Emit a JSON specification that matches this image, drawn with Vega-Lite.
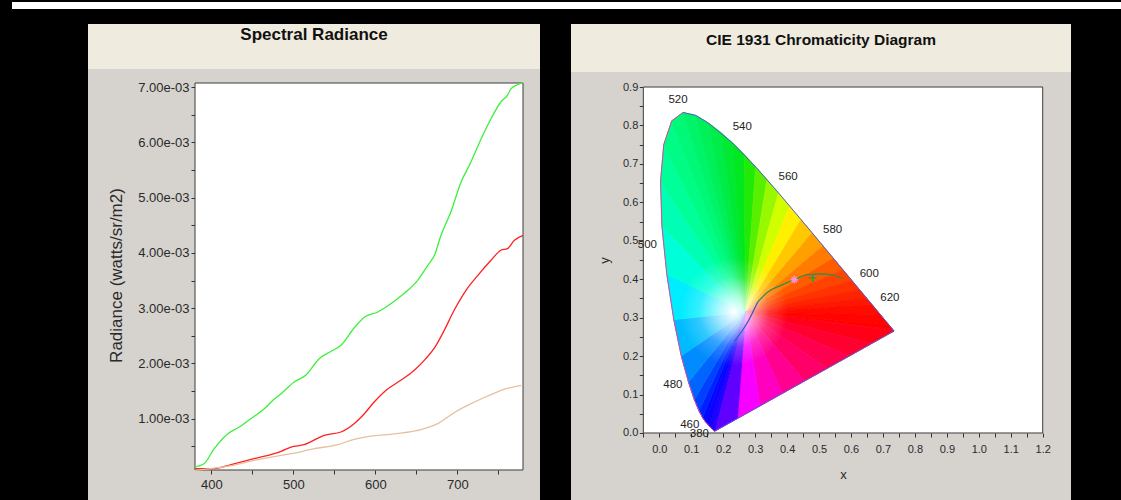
{
  "$schema": "https://vega.github.io/schema/vega-lite/v6.json",
  "background": "#000000",
  "padding": {"left": 10, "top": 0, "right": 0, "bottom": 0},
  "config": {
    "view": {"stroke": null},
    "axis": {"grid": false, "domain": false, "labelFont": "Liberation Sans", "titleFont": "Liberation Sans", "labelColor": "#2a2a2a", "titleColor": "#2a2a2a", "tickColor": "#333333", "titleFontWeight": "normal", "labelOverlap": false, "labelFlush": false},
    "text": {"font": "Liberation Sans"}
  },
  "datasets": {
    "rad": [
      {"s":"green","wl":380,"v":0.000127},{"s":"green","wl":391,"v":0.000186},{"s":"green","wl":403.5,"v":0.000458},{"s":"green","wl":420,"v":0.000729},{"s":"green","wl":434,"v":0.00085},{"s":"green","wl":448,"v":0.001},{"s":"green","wl":464.5,"v":0.001181},{"s":"green","wl":475,"v":0.001333},{"s":"green","wl":485,"v":0.001453},{"s":"green","wl":501,"v":0.001664},{"s":"green","wl":515,"v":0.001785},{"s":"green","wl":531.5,"v":0.002086},{"s":"green","wl":546,"v":0.00222},{"s":"green","wl":558,"v":0.002328},{"s":"green","wl":574,"v":0.002641},{"s":"green","wl":586.5,"v":0.002835},{"s":"green","wl":603,"v":0.002931},{"s":"green","wl":613,"v":0.003021},{"s":"green","wl":627,"v":0.003171},{"s":"green","wl":639.5,"v":0.003323},{"s":"green","wl":651.5,"v":0.003504},{"s":"green","wl":664,"v":0.003775},{"s":"green","wl":672,"v":0.003956},{"s":"green","wl":680,"v":0.004318},{"s":"green","wl":692,"v":0.00474},{"s":"green","wl":704.5,"v":0.005282},{"s":"green","wl":716.5,"v":0.005644},{"s":"green","wl":729,"v":0.006066},{"s":"green","wl":741,"v":0.006427},{"s":"green","wl":753,"v":0.006729},{"s":"green","wl":761,"v":0.006851},{"s":"green","wl":765.5,"v":0.00697},{"s":"green","wl":773.5,"v":0.007042},{"s":"green","wl":780,"v":0.007078},
      {"s":"red","wl":380,"v":0.000096},{"s":"red","wl":403.5,"v":0.000096},{"s":"red","wl":424,"v":0.00017},{"s":"red","wl":452,"v":0.000277},{"s":"red","wl":485,"v":0.000411},{"s":"red","wl":497,"v":0.000488},{"s":"red","wl":513,"v":0.00053},{"s":"red","wl":537.5,"v":0.0007},{"s":"red","wl":558,"v":0.00076},{"s":"red","wl":574,"v":0.00091},{"s":"red","wl":586.5,"v":0.001091},{"s":"red","wl":598.5,"v":0.001302},{"s":"red","wl":613,"v":0.001514},{"s":"red","wl":631,"v":0.001695},{"s":"red","wl":647.5,"v":0.001876},{"s":"red","wl":661.5,"v":0.002086},{"s":"red","wl":674,"v":0.002328},{"s":"red","wl":684,"v":0.0026},{"s":"red","wl":696,"v":0.002961},{"s":"red","wl":710.5,"v":0.003323},{"s":"red","wl":725,"v":0.003594},{"s":"red","wl":741,"v":0.003866},{"s":"red","wl":753,"v":0.004047},{"s":"red","wl":761,"v":0.004076},{"s":"red","wl":769.5,"v":0.004228},{"s":"red","wl":780,"v":0.004318},
      {"s":"tan","wl":380,"v":0.000067},{"s":"tan","wl":424,"v":0.00015},{"s":"tan","wl":452,"v":0.000248},{"s":"tan","wl":485,"v":0.000338},{"s":"tan","wl":497,"v":0.000367},{"s":"tan","wl":525.5,"v":0.000458},{"s":"tan","wl":554,"v":0.00053},{"s":"tan","wl":574,"v":0.000628},{"s":"tan","wl":594.5,"v":0.000687},{"s":"tan","wl":615,"v":0.000711},{"s":"tan","wl":635,"v":0.000747},{"s":"tan","wl":655.5,"v":0.000801},{"s":"tan","wl":676,"v":0.00091},{"s":"tan","wl":696,"v":0.001109},{"s":"tan","wl":716.5,"v":0.001272},{"s":"tan","wl":737,"v":0.001411},{"s":"tan","wl":757,"v":0.001532},{"s":"tan","wl":778,"v":0.001605}
    ],
    "locus": [
      {"wl":380,"x":0.1741,"y":0.005},{"wl":420,"x":0.1714,"y":0.0051},{"wl":440,"x":0.1644,"y":0.0109},{"wl":450,"x":0.1566,"y":0.0177},{"wl":460,"x":0.144,"y":0.0297},{"wl":465,"x":0.1355,"y":0.0399},{"wl":470,"x":0.1241,"y":0.0578},{"wl":475,"x":0.1096,"y":0.0868},{"wl":480,"x":0.0913,"y":0.1327},{"wl":485,"x":0.0687,"y":0.2007},{"wl":490,"x":0.0454,"y":0.295},{"wl":495,"x":0.0235,"y":0.4127},{"wl":500,"x":0.0082,"y":0.5384},{"wl":505,"x":0.0039,"y":0.6548},{"wl":510,"x":0.0139,"y":0.7502},{"wl":515,"x":0.0389,"y":0.812},{"wl":520,"x":0.0743,"y":0.8338},{"wl":525,"x":0.1142,"y":0.8262},{"wl":530,"x":0.1547,"y":0.8059},{"wl":540,"x":0.2296,"y":0.7543},{"wl":550,"x":0.3016,"y":0.6923},{"wl":560,"x":0.3731,"y":0.6245},{"wl":570,"x":0.4441,"y":0.5547},{"wl":580,"x":0.5125,"y":0.4866},{"wl":590,"x":0.5752,"y":0.4242},{"wl":600,"x":0.627,"y":0.3725},{"wl":610,"x":0.6658,"y":0.334},{"wl":620,"x":0.6915,"y":0.3083},{"wl":640,"x":0.719,"y":0.2809},{"wl":660,"x":0.73,"y":0.27},{"wl":700,"x":0.7347,"y":0.2653}
    ],
    "outline": [
      {"side":"L","o":0,"x":0.1741,"y":0.005},{"side":"L","o":1,"x":0.1714,"y":0.0051},{"side":"L","o":2,"x":0.1644,"y":0.0109},{"side":"L","o":3,"x":0.1566,"y":0.0177},{"side":"L","o":4,"x":0.144,"y":0.0297},{"side":"L","o":5,"x":0.1355,"y":0.0399},{"side":"L","o":6,"x":0.1241,"y":0.0578},{"side":"L","o":7,"x":0.1096,"y":0.0868},{"side":"L","o":8,"x":0.0913,"y":0.1327},{"side":"L","o":9,"x":0.0687,"y":0.2007},{"side":"L","o":10,"x":0.0454,"y":0.295},{"side":"L","o":11,"x":0.0235,"y":0.4127},{"side":"L","o":12,"x":0.0082,"y":0.5384},{"side":"L","o":13,"x":0.0039,"y":0.6548},{"side":"L","o":14,"x":0.0139,"y":0.7502},{"side":"L","o":15,"x":0.0389,"y":0.812},{"side":"L","o":16,"x":0.0743,"y":0.8338},
      {"side":"R","o":0,"x":0.0743,"y":0.8338},{"side":"R","o":1,"x":0.1142,"y":0.8262},{"side":"R","o":2,"x":0.1547,"y":0.8059},{"side":"R","o":3,"x":0.2296,"y":0.7543},{"side":"R","o":4,"x":0.3016,"y":0.6923},{"side":"R","o":5,"x":0.3731,"y":0.6245},{"side":"R","o":6,"x":0.4441,"y":0.5547},{"side":"R","o":7,"x":0.5125,"y":0.4866},{"side":"R","o":8,"x":0.5752,"y":0.4242},{"side":"R","o":9,"x":0.627,"y":0.3725},{"side":"R","o":10,"x":0.6658,"y":0.334},{"side":"R","o":11,"x":0.6915,"y":0.3083},{"side":"R","o":12,"x":0.719,"y":0.2809},{"side":"R","o":13,"x":0.73,"y":0.27},{"side":"R","o":14,"x":0.7347,"y":0.2653},{"side":"R","o":15,"x":0.1741,"y":0.005}
    ],
    "fan": [
      {"w":0,"k":0,"x":0.27,"y":0.315},{"w":0,"k":1,"x":0.1741,"y":0.005},{"w":0,"k":2,"x":0.1714,"y":0.0051},
      {"w":1,"k":0,"x":0.27,"y":0.315},{"w":1,"k":1,"x":0.1714,"y":0.0051},{"w":1,"k":2,"x":0.1644,"y":0.0109},
      {"w":2,"k":0,"x":0.27,"y":0.315},{"w":2,"k":1,"x":0.1644,"y":0.0109},{"w":2,"k":2,"x":0.1566,"y":0.0177},
      {"w":3,"k":0,"x":0.27,"y":0.315},{"w":3,"k":1,"x":0.1566,"y":0.0177},{"w":3,"k":2,"x":0.144,"y":0.0297},
      {"w":4,"k":0,"x":0.27,"y":0.315},{"w":4,"k":1,"x":0.144,"y":0.0297},{"w":4,"k":2,"x":0.1355,"y":0.0399},
      {"w":5,"k":0,"x":0.27,"y":0.315},{"w":5,"k":1,"x":0.1355,"y":0.0399},{"w":5,"k":2,"x":0.1241,"y":0.0578},
      {"w":6,"k":0,"x":0.27,"y":0.315},{"w":6,"k":1,"x":0.1241,"y":0.0578},{"w":6,"k":2,"x":0.1096,"y":0.0868},
      {"w":7,"k":0,"x":0.27,"y":0.315},{"w":7,"k":1,"x":0.1096,"y":0.0868},{"w":7,"k":2,"x":0.0913,"y":0.1327},
      {"w":8,"k":0,"x":0.27,"y":0.315},{"w":8,"k":1,"x":0.0913,"y":0.1327},{"w":8,"k":2,"x":0.0687,"y":0.2007},
      {"w":9,"k":0,"x":0.27,"y":0.315},{"w":9,"k":1,"x":0.0687,"y":0.2007},{"w":9,"k":2,"x":0.0454,"y":0.295},
      {"w":10,"k":0,"x":0.27,"y":0.315},{"w":10,"k":1,"x":0.0454,"y":0.295},{"w":10,"k":2,"x":0.0235,"y":0.4127},
      {"w":11,"k":0,"x":0.27,"y":0.315},{"w":11,"k":1,"x":0.0235,"y":0.4127},{"w":11,"k":2,"x":0.0082,"y":0.5384},
      {"w":12,"k":0,"x":0.27,"y":0.315},{"w":12,"k":1,"x":0.0082,"y":0.5384},{"w":12,"k":2,"x":0.0039,"y":0.6548},
      {"w":13,"k":0,"x":0.27,"y":0.315},{"w":13,"k":1,"x":0.0039,"y":0.6548},{"w":13,"k":2,"x":0.0139,"y":0.7502},
      {"w":14,"k":0,"x":0.27,"y":0.315},{"w":14,"k":1,"x":0.0139,"y":0.7502},{"w":14,"k":2,"x":0.0389,"y":0.812},
      {"w":15,"k":0,"x":0.27,"y":0.315},{"w":15,"k":1,"x":0.0389,"y":0.812},{"w":15,"k":2,"x":0.0743,"y":0.8338},
      {"w":16,"k":0,"x":0.27,"y":0.315},{"w":16,"k":1,"x":0.0743,"y":0.8338},{"w":16,"k":2,"x":0.1142,"y":0.8262},
      {"w":17,"k":0,"x":0.27,"y":0.315},{"w":17,"k":1,"x":0.1142,"y":0.8262},{"w":17,"k":2,"x":0.1547,"y":0.8059},
      {"w":18,"k":0,"x":0.27,"y":0.315},{"w":18,"k":1,"x":0.1547,"y":0.8059},{"w":18,"k":2,"x":0.1929,"y":0.7816},
      {"w":19,"k":0,"x":0.27,"y":0.315},{"w":19,"k":1,"x":0.1929,"y":0.7816},{"w":19,"k":2,"x":0.2296,"y":0.7543},
      {"w":20,"k":0,"x":0.27,"y":0.315},{"w":20,"k":1,"x":0.2296,"y":0.7543},{"w":20,"k":2,"x":0.2658,"y":0.7243},
      {"w":21,"k":0,"x":0.27,"y":0.315},{"w":21,"k":1,"x":0.2658,"y":0.7243},{"w":21,"k":2,"x":0.3016,"y":0.6923},
      {"w":22,"k":0,"x":0.27,"y":0.315},{"w":22,"k":1,"x":0.3016,"y":0.6923},{"w":22,"k":2,"x":0.3373,"y":0.6589},
      {"w":23,"k":0,"x":0.27,"y":0.315},{"w":23,"k":1,"x":0.3373,"y":0.6589},{"w":23,"k":2,"x":0.3731,"y":0.6245},
      {"w":24,"k":0,"x":0.27,"y":0.315},{"w":24,"k":1,"x":0.3731,"y":0.6245},{"w":24,"k":2,"x":0.4087,"y":0.5896},
      {"w":25,"k":0,"x":0.27,"y":0.315},{"w":25,"k":1,"x":0.4087,"y":0.5896},{"w":25,"k":2,"x":0.4441,"y":0.5547},
      {"w":26,"k":0,"x":0.27,"y":0.315},{"w":26,"k":1,"x":0.4441,"y":0.5547},{"w":26,"k":2,"x":0.4788,"y":0.5202},
      {"w":27,"k":0,"x":0.27,"y":0.315},{"w":27,"k":1,"x":0.4788,"y":0.5202},{"w":27,"k":2,"x":0.5125,"y":0.4866},
      {"w":28,"k":0,"x":0.27,"y":0.315},{"w":28,"k":1,"x":0.5125,"y":0.4866},{"w":28,"k":2,"x":0.5448,"y":0.4544},
      {"w":29,"k":0,"x":0.27,"y":0.315},{"w":29,"k":1,"x":0.5448,"y":0.4544},{"w":29,"k":2,"x":0.5752,"y":0.4242},
      {"w":30,"k":0,"x":0.27,"y":0.315},{"w":30,"k":1,"x":0.5752,"y":0.4242},{"w":30,"k":2,"x":0.6029,"y":0.3965},
      {"w":31,"k":0,"x":0.27,"y":0.315},{"w":31,"k":1,"x":0.6029,"y":0.3965},{"w":31,"k":2,"x":0.627,"y":0.3725},
      {"w":32,"k":0,"x":0.27,"y":0.315},{"w":32,"k":1,"x":0.627,"y":0.3725},{"w":32,"k":2,"x":0.6482,"y":0.3514},
      {"w":33,"k":0,"x":0.27,"y":0.315},{"w":33,"k":1,"x":0.6482,"y":0.3514},{"w":33,"k":2,"x":0.6658,"y":0.334},
      {"w":34,"k":0,"x":0.27,"y":0.315},{"w":34,"k":1,"x":0.6658,"y":0.334},{"w":34,"k":2,"x":0.6915,"y":0.3083},
      {"w":35,"k":0,"x":0.27,"y":0.315},{"w":35,"k":1,"x":0.6915,"y":0.3083},{"w":35,"k":2,"x":0.719,"y":0.2809},
      {"w":36,"k":0,"x":0.27,"y":0.315},{"w":36,"k":1,"x":0.719,"y":0.2809},{"w":36,"k":2,"x":0.73,"y":0.27},
      {"w":37,"k":0,"x":0.27,"y":0.315},{"w":37,"k":1,"x":0.73,"y":0.27},{"w":37,"k":2,"x":0.7347,"y":0.2653},
      {"w":38,"k":0,"x":0.27,"y":0.315},{"w":38,"k":1,"x":0.7347,"y":0.2653},{"w":38,"k":2,"x":0.6646,"y":0.2328},
      {"w":39,"k":0,"x":0.27,"y":0.315},{"w":39,"k":1,"x":0.6646,"y":0.2328},{"w":39,"k":2,"x":0.5946,"y":0.2002},
      {"w":40,"k":0,"x":0.27,"y":0.315},{"w":40,"k":1,"x":0.5946,"y":0.2002},{"w":40,"k":2,"x":0.5245,"y":0.1677},
      {"w":41,"k":0,"x":0.27,"y":0.315},{"w":41,"k":1,"x":0.5245,"y":0.1677},{"w":41,"k":2,"x":0.4544,"y":0.1352},
      {"w":42,"k":0,"x":0.27,"y":0.315},{"w":42,"k":1,"x":0.4544,"y":0.1352},{"w":42,"k":2,"x":0.3843,"y":0.1026},
      {"w":43,"k":0,"x":0.27,"y":0.315},{"w":43,"k":1,"x":0.3843,"y":0.1026},{"w":43,"k":2,"x":0.3143,"y":0.0701},
      {"w":44,"k":0,"x":0.27,"y":0.315},{"w":44,"k":1,"x":0.3143,"y":0.0701},{"w":44,"k":2,"x":0.2442,"y":0.0376},
      {"w":45,"k":0,"x":0.27,"y":0.315},{"w":45,"k":1,"x":0.2442,"y":0.0376},{"w":45,"k":2,"x":0.1741,"y":0.005}
    ],
    "planck": [
      {"seg":"b","o":0,"x":0.2354,"y":0.2386},{"seg":"b","o":1,"x":0.2767,"y":0.2888},{"seg":"b","o":2,"x":0.308,"y":0.3408},
      {"seg":"g","o":0,"x":0.308,"y":0.3408},{"seg":"g","o":1,"x":0.3393,"y":0.3668},{"seg":"g","o":2,"x":0.381,"y":0.3842},{"seg":"g","o":3,"x":0.4226,"y":0.3989},{"seg":"g","o":4,"x":0.4645,"y":0.4118},{"seg":"g","o":5,"x":0.5061,"y":0.4136},{"seg":"g","o":6,"x":0.5478,"y":0.4102},{"seg":"g","o":7,"x":0.574,"y":0.4014}
    ],
    "markers": [
      {"m":"star","x":0.4226,"y":0.3989},{"m":"plus","x":0.48,"y":0.403}
    ],
    "labels": [
      {"t":"540","g":"R","x":0.2296,"y":0.7543},{"t":"560","g":"R","x":0.3731,"y":0.6245},{"t":"580","g":"R","x":0.5125,"y":0.4866},{"t":"600","g":"R","x":0.627,"y":0.3725},{"t":"620","g":"R","x":0.6915,"y":0.3083},
      {"t":"520","g":"T","x":0.0743,"y":0.8338},
      {"t":"480","g":"L","x":0.0913,"y":0.1327},{"t":"460","g":"L","x":0.144,"y":0.0297},{"t":"380","g":"L","x":0.1741,"y":0.005},
      {"t":"500","g":"M","x":0.0082,"y":0.5384}
    ]
  },
  "spacing": 14,
  "vconcat": [
    {"width": 1111, "height": 8, "view": {"fill": "#ffffff", "stroke": "#000000"}, "data": {"values": []}, "mark": "point"},
    {
      "spacing": 31,
      "hconcat": [
        {"width": 46, "height": 10, "view": {"fill": "#000000"}, "data": {"values": []}, "mark": "point"},
        {
          "spacing": 0,
          "vconcat": [
            {
              "width": 452, "height": 45, "view": {"fill": "#efebde"},
              "data": {"values": [{"t": "Spectral Radiance"}]},
              "mark": {"type": "text", "font": "Liberation Sans", "fontSize": 17, "fontWeight": "bold", "color": "#111111", "baseline": "middle", "dy": -12},
              "encoding": {"text": {"field": "t"}}
            },
            {
              "width": 452, "height": 433, "view": {"fill": "#d6d3ce"},
              "layer": [
                {
                  "data": {"values": [{}]},
                  "mark": {"type": "rect", "fill": "#ffffff", "stroke": "#3c3c3c", "strokeWidth": 1},
                  "encoding": {
                    "x": {"datum": 380, "type": "quantitative", "scale": {"domain": [249.51, 800.73], "nice": false, "zero": false}},
                    "x2": {"datum": 780},
                    "y": {"datum": 0.0000724, "type": "quantitative", "scale": {"domain": [-0.0005065, 0.0073263], "nice": false, "zero": false}},
                    "y2": {"datum": 0.007073}
                  }
                },
                {
                  "data": {"name": "rad"},
                  "mark": {"type": "line", "strokeWidth": 1.3, "interpolate": "monotone"},
                  "encoding": {
                    "x": {"field": "wl", "type": "quantitative", "scale": {"domain": [249.51, 800.73], "nice": false, "zero": false},
                      "axis": {"orient": "bottom", "offset": -32, "values": [400, 450, 500, 550, 600, 650, 700, 750], "tickCount": 100, "labelExpr": "datum.value % 100 == 0 ? datum.label : ''", "labelOverlap": false, "title": null, "tickSize": 4, "labelPadding": 4, "labelFontSize": 13}},
                    "y": {"field": "v", "type": "quantitative", "scale": {"domain": [-0.0005065, 0.0073263], "nice": false, "zero": false},
                      "axis": {"orient": "left", "offset": -107, "values": [0.0005, 0.001, 0.0015, 0.002, 0.0025, 0.003, 0.0035, 0.004, 0.0045, 0.005, 0.0055, 0.006, 0.0065, 0.007], "tickCount": 100, "labelExpr": "abs(datum.value*1000 - round(datum.value*1000)) < 0.01 ? replace(format(datum.value, '.2e'), 'e-', 'e-0') : ''", "labelOverlap": false, "title": "Radiance (watts/sr/m2)", "titleFontSize": 17, "titleY": 206, "titlePadding": 12, "tickSize": 4, "labelPadding": 2, "labelFontSize": 13}},
                    "color": {"field": "s", "type": "nominal", "scale": {"domain": ["green", "red", "tan"], "range": ["#3cf03c", "#ff2020", "#e6c09c"]}, "legend": null}
                  }
                }
              ]
            }
          ]
        },
        {
          "spacing": 0,
          "vconcat": [
            {
              "width": 500, "height": 48, "view": {"fill": "#efebde"},
              "data": {"values": [{"t": "CIE 1931 Chromaticity Diagram"}]},
              "mark": {"type": "text", "font": "Liberation Sans", "fontSize": 15.5, "fontWeight": "bold", "color": "#111111", "baseline": "middle", "dy": -8},
              "encoding": {"text": {"field": "t"}}
            },
            {
              "width": 500, "height": 430, "view": {"fill": "#d6d3ce"},
              "resolve": {"scale": {"color": "independent"}},
              "layer": [
                {
                  "data": {"values": [{}]},
                  "mark": {"type": "rect", "fill": "#ffffff", "stroke": "#3c3c3c", "strokeWidth": 1},
                  "encoding": {
                    "x": {"datum": -0.05, "type": "quantitative", "scale": {"domain": [-0.2764, 1.2886], "nice": false, "zero": false}},
                    "x2": {"datum": 1.2},
                    "y": {"datum": 0, "type": "quantitative", "scale": {"domain": [-0.1795, 0.9391], "nice": false, "zero": false}},
                    "y2": {"datum": 0.9}
                  }
                },
                {
                  "data": {"name": "fan"},
                  "mark": {"type": "line", "strokeWidth": 1},
                  "encoding": {
                    "x": {"field": "x", "type": "quantitative", "scale": {"domain": [-0.2764, 1.2886], "nice": false, "zero": false},
                      "axis": {"orient": "bottom", "offset": -69, "values": [-0.05, 0, 0.05, 0.1, 0.15, 0.2, 0.25, 0.3, 0.35, 0.4, 0.45, 0.5, 0.55, 0.6, 0.65, 0.7, 0.75, 0.8, 0.85, 0.9, 0.95, 1, 1.05, 1.1, 1.15, 1.2], "tickCount": 100, "labelExpr": "abs(datum.value*10 - round(datum.value*10)) < 0.01 ? format(datum.value, '.1f') : ''", "labelOverlap": false, "title": "x", "titleFontSize": 13, "titleX": 272, "titlePadding": 14, "tickSize": 4, "labelPadding": 6, "labelFontSize": 11}},
                    "y": {"field": "y", "type": "quantitative", "scale": {"domain": [-0.1795, 0.9391], "nice": false, "zero": false},
                      "axis": {"orient": "left", "offset": -72.3, "values": [0, 0.05, 0.1, 0.15, 0.2, 0.25, 0.3, 0.35, 0.4, 0.45, 0.5, 0.55, 0.6, 0.65, 0.7, 0.75, 0.8, 0.85, 0.9], "tickCount": 100, "labelExpr": "abs(datum.value*10 - round(datum.value*10)) < 0.01 ? format(datum.value, '.1f') : ''", "labelOverlap": false, "title": "y", "titleFontSize": 13, "titleY": 188, "titlePadding": 11, "tickSize": 4, "labelPadding": 1.5, "labelFontSize": 11}},
                    "order": {"field": "k", "type": "quantitative"},
                    "fill": {"field": "w", "type": "nominal", "legend": null, "scale": {"domain": [0,1,2,3,4,5,6,7,8,9,10,11,12,13,14,15,16,17,18,19,20,21,22,23,24,25,26,27,28,29,30,31,32,33,34,35,36,37,38,39,40,41,42,43,44,45], "range": ["#2800ff","#2000ff","#1800ff","#1000ff","#0008ff","#0020ff","#0040ff","#0064ff","#008cff","#00bcff","#00ecff","#00ffd8","#00ffb4","#00ff98","#00fc84","#00f878","#00f46a","#00f05a","#00ec48","#00ea34","#00e820","#20ea08","#58f000","#98f800","#d0ff00","#fff000","#ffc800","#ffa000","#ff7c00","#ff5c00","#ff4400","#ff3200","#ff2400","#ff1800","#ff0c00","#ff0400","#ff0000","#ff0004","#ff0018","#ff0030","#ff0050","#ff0068","#ff0090","#ff00c0","#f800ff","#6000ff"]}},
                    "stroke": {"field": "w", "type": "nominal", "legend": null, "scale": {"domain": [0,1,2,3,4,5,6,7,8,9,10,11,12,13,14,15,16,17,18,19,20,21,22,23,24,25,26,27,28,29,30,31,32,33,34,35,36,37,38,39,40,41,42,43,44,45], "range": ["#2800ff","#2000ff","#1800ff","#1000ff","#0008ff","#0020ff","#0040ff","#0064ff","#008cff","#00bcff","#00ecff","#00ffd8","#00ffb4","#00ff98","#00fc84","#00f878","#00f46a","#00f05a","#00ec48","#00ea34","#00e820","#20ea08","#58f000","#98f800","#d0ff00","#fff000","#ffc800","#ffa000","#ff7c00","#ff5c00","#ff4400","#ff3200","#ff2400","#ff1800","#ff0c00","#ff0400","#ff0000","#ff0004","#ff0018","#ff0030","#ff0050","#ff0068","#ff0090","#ff00c0","#f800ff","#6000ff"]}}
                  }
                },
                {
                  "data": {"name": "locus"},
                  "mark": {"type": "line", "stroke": null, "strokeWidth": 0,
                    "fill": {"gradient": "radial", "x1": 0.3641, "y1": 0.626, "r1": 0, "x2": 0.3641, "y2": 0.626, "r2": 0.17,
                      "stops": [{"offset": 0, "color": "rgba(255,255,255,1)"}, {"offset": 0.3, "color": "rgba(255,255,255,0.65)"}, {"offset": 0.65, "color": "rgba(255,255,255,0.2)"}, {"offset": 1, "color": "rgba(255,255,255,0)"}]}},
                  "encoding": {
                    "x": {"field": "x", "type": "quantitative", "scale": {"domain": [-0.2764, 1.2886], "nice": false, "zero": false}},
                    "y": {"field": "y", "type": "quantitative", "scale": {"domain": [-0.1795, 0.9391], "nice": false, "zero": false}},
                    "order": {"field": "wl", "type": "quantitative"}
                  }
                },
                {
                  "data": {"name": "outline"},
                  "mark": {"type": "line", "strokeWidth": 1},
                  "encoding": {
                    "x": {"field": "x", "type": "quantitative", "scale": {"domain": [-0.2764, 1.2886], "nice": false, "zero": false}},
                    "y": {"field": "y", "type": "quantitative", "scale": {"domain": [-0.1795, 0.9391], "nice": false, "zero": false}},
                    "order": {"field": "o", "type": "quantitative"},
                    "color": {"field": "side", "type": "nominal", "scale": {"domain": ["L", "R"], "range": ["#e0449c", "#5a5ad0"]}, "legend": null}
                  }
                },
                {
                  "data": {"name": "planck"},
                  "mark": {"type": "line", "strokeWidth": 1.3, "interpolate": "monotone"},
                  "encoding": {
                    "x": {"field": "x", "type": "quantitative", "scale": {"domain": [-0.2764, 1.2886], "nice": false, "zero": false}},
                    "y": {"field": "y", "type": "quantitative", "scale": {"domain": [-0.1795, 0.9391], "nice": false, "zero": false}},
                    "order": {"field": "o", "type": "quantitative"},
                    "color": {"field": "seg", "type": "nominal", "scale": {"domain": ["b", "g"], "range": ["#3a5cc0", "#3d8a4a"]}, "legend": null}
                  }
                },
                {
                  "data": {"name": "markers"},
                  "mark": {"type": "point", "filled": false, "strokeWidth": 1.5, "size": 60, "opacity": 1},
                  "encoding": {
                    "x": {"field": "x", "type": "quantitative", "scale": {"domain": [-0.2764, 1.2886], "nice": false, "zero": false}},
                    "y": {"field": "y", "type": "quantitative", "scale": {"domain": [-0.1795, 0.9391], "nice": false, "zero": false}},
                    "shape": {"field": "m", "type": "nominal", "scale": {"domain": ["star", "plus"], "range": ["M-1,0L1,0M0,-1L0,1M-0.7,-0.7L0.7,0.7M-0.7,0.7L0.7,-0.7", "M-1,0L1,0M0,-1L0,1"]}, "legend": null},
                    "color": {"field": "m", "type": "nominal", "scale": {"domain": ["star", "plus"], "range": ["#ff8fd0", "#2e9a3e"]}, "legend": null}
                  }
                },
                {
                  "data": {"name": "labels"},
                  "transform": [{"filter": "datum.g == 'R'"}],
                  "mark": {"type": "text", "fontSize": 11.5, "color": "#222222", "align": "left", "baseline": "middle", "dx": 0, "dy": -16},
                  "encoding": {
                    "x": {"field": "x", "type": "quantitative", "scale": {"domain": [-0.2764, 1.2886], "nice": false, "zero": false}},
                    "y": {"field": "y", "type": "quantitative", "scale": {"domain": [-0.1795, 0.9391], "nice": false, "zero": false}},
                    "text": {"field": "t"}
                  }
                },
                {
                  "data": {"name": "labels"},
                  "transform": [{"filter": "datum.g == 'T'"}],
                  "mark": {"type": "text", "fontSize": 11.5, "color": "#222222", "align": "center", "baseline": "middle", "dx": -5, "dy": -12},
                  "encoding": {
                    "x": {"field": "x", "type": "quantitative", "scale": {"domain": [-0.2764, 1.2886], "nice": false, "zero": false}},
                    "y": {"field": "y", "type": "quantitative", "scale": {"domain": [-0.1795, 0.9391], "nice": false, "zero": false}},
                    "text": {"field": "t"}
                  }
                },
                {
                  "data": {"name": "labels"},
                  "transform": [{"filter": "datum.g == 'L'"}],
                  "mark": {"type": "text", "fontSize": 11.5, "color": "#222222", "align": "right", "baseline": "middle", "dx": -6, "dy": 3},
                  "encoding": {
                    "x": {"field": "x", "type": "quantitative", "scale": {"domain": [-0.2764, 1.2886], "nice": false, "zero": false}},
                    "y": {"field": "y", "type": "quantitative", "scale": {"domain": [-0.1795, 0.9391], "nice": false, "zero": false}},
                    "text": {"field": "t"}
                  }
                },
                {
                  "data": {"name": "labels"},
                  "transform": [{"filter": "datum.g == 'M'"}],
                  "mark": {"type": "text", "fontSize": 11.5, "color": "#222222", "align": "right", "baseline": "middle", "dx": -5, "dy": 19},
                  "encoding": {
                    "x": {"field": "x", "type": "quantitative", "scale": {"domain": [-0.2764, 1.2886], "nice": false, "zero": false}},
                    "y": {"field": "y", "type": "quantitative", "scale": {"domain": [-0.1795, 0.9391], "nice": false, "zero": false}},
                    "text": {"field": "t"}
                  }
                }
              ]
            }
          ]
        }
      ]
    }
  ]
}
